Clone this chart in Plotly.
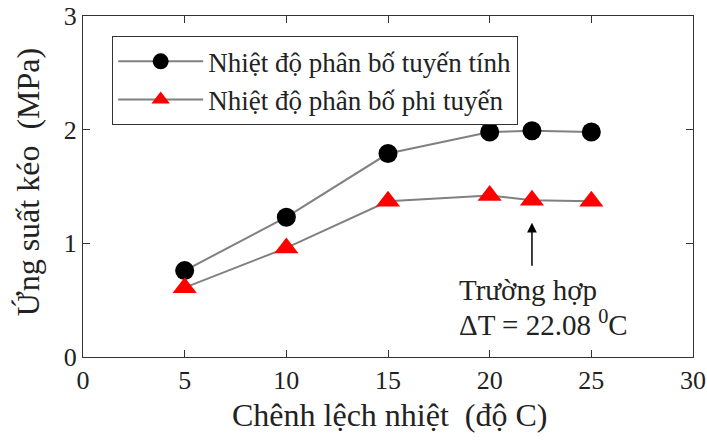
import plotly.graph_objects as go

# Temperature difference (deg C) and tensile stress (MPa)
delta_t = [5, 10, 15, 20, 22.08, 25]
stress_linear = [0.76, 1.23, 1.79, 1.98, 1.99, 1.98]
stress_nonlinear = [0.61, 0.96, 1.37, 1.42, 1.38, 1.37]

series_names = ["Nhiệt độ phân bố tuyến tính", "Nhiệt độ phân bố phi tuyến"]
x_ticks = [0, 5, 10, 15, 20, 25, 30]
y_ticks = [0, 1, 2, 3]

# Highlighted case
case_x = 22.08
arrow_tail_y = 0.79
arrow_tip_y = 1.18
case_lines = ["Trường hợp", "ΔT = 22.08 <sup>0</sup>C"]

FONT = "'Liberation Serif', 'DejaVu Serif'"
AXIS_COLOR = "#333333"
LINE_COLOR = "#808080"
TEXT_COLOR = "#222222"

fig = go.Figure()
fig.add_trace(go.Scatter(
    x=delta_t, y=stress_linear, mode="lines+markers", name=series_names[0],
    line=dict(color=LINE_COLOR, width=2),
    marker=dict(symbol="circle", size=19, color="black"),
))
fig.add_trace(go.Scatter(
    x=delta_t, y=stress_nonlinear, mode="lines+markers", name=series_names[1],
    line=dict(color=LINE_COLOR, width=2),
    marker=dict(symbol="triangle-up", size=21, color="#ff0000"),
))

axis_common = dict(
    showgrid=False, zeroline=False, showline=True, linecolor=AXIS_COLOR,
    linewidth=1.2, mirror="ticks", ticks="inside", ticklen=7,
    tickcolor=AXIS_COLOR, tickwidth=1.2, automargin=False,
    ticklabeloverflow="allow",
    tickfont=dict(family=FONT, size=26, color=TEXT_COLOR),
)
fig.update_xaxes(range=[0, 30], tickvals=x_ticks, **axis_common)
fig.update_yaxes(range=[0, 3], tickvals=y_ticks, **axis_common)

# Arrow pointing at the highlighted case
fig.add_annotation(
    x=case_x, y=arrow_tip_y, ax=case_x, ay=arrow_tail_y,
    xref="x", yref="y", axref="x", ayref="y",
    showarrow=True, arrowhead=2, arrowsize=1.3, arrowwidth=1.5,
    arrowcolor="black", text="",
)
for line_text, line_y in zip(case_lines, [0.59, 0.30]):
    fig.add_annotation(
        x=18.4, y=line_y, xref="x", yref="y", xanchor="left", yanchor="middle",
        text=line_text, showarrow=False, align="left",
        font=dict(family=FONT, size=29, color=TEXT_COLOR),
    )

# Axis titles
fig.add_annotation(
    x=-0.09, y=0.513, xref="paper", yref="paper", xanchor="center", yanchor="middle",
    text="Ứng suất kéo\u00a0\u00a0(MPa)", textangle=-90, showarrow=False,
    font=dict(family=FONT, size=32, color=TEXT_COLOR),
)
fig.add_annotation(
    x=0.502, y=-0.17, xref="paper", yref="paper", xanchor="center", yanchor="middle",
    text="Chênh lệch nhiệt\u00a0\u00a0(độ C)", showarrow=False,
    font=dict(family=FONT, size=32, color=TEXT_COLOR),
)

fig.update_layout(
    width=707, height=442,
    margin=dict(l=83, r=14, t=16, b=85, autoexpand=False),
    paper_bgcolor="white", plot_bgcolor="white",
    showlegend=True,
    legend=dict(
        x=0.0475, y=0.941, xanchor="left", yanchor="top",
        bgcolor="white", bordercolor="#333333", borderwidth=1.2,
        font=dict(family=FONT, size=27, color=TEXT_COLOR),
        itemwidth=85, tracegroupgap=0,
    ),
)

fig.write_html("out.html")
